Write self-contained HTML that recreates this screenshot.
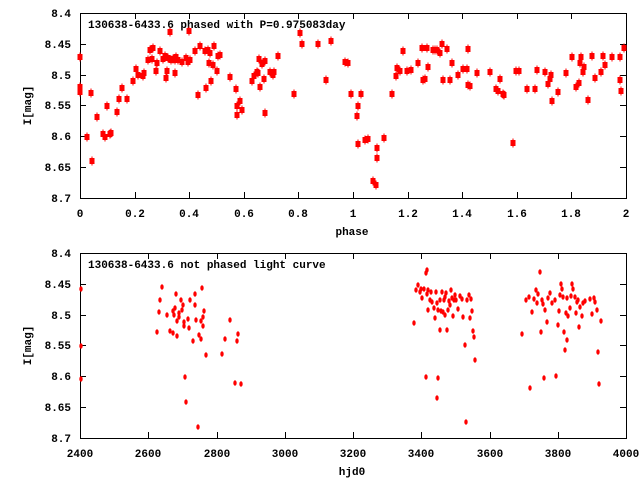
<!DOCTYPE html>
<html><head><meta charset="utf-8"><style>
html,body{margin:0;padding:0;background:#fff;}
svg{display:block;font-family:"Liberation Mono","DejaVu Sans Mono",monospace;font-weight:bold;font-size:11px;}
</style></head><body>
<svg id="s" width="640" height="480" xmlns="http://www.w3.org/2000/svg"></svg>
<script>
const s=document.getElementById('s');let h='';
function frame(L,T,R,B,xt,yt,title,xl){
 h+=`<rect x="${L}.5" y="${T}.5" width="${R-L}" height="${B-T}" fill="none" stroke="#000"/>`;
 xt.forEach(([v,x])=>{h+=`<line x1="${x}.5" y1="${T}" x2="${x}.5" y2="${T+6}" stroke="#000"/><line x1="${x}.5" y1="${B}" x2="${x}.5" y2="${B-6}" stroke="#000"/><text x="${x}" y="${B+19}" text-anchor="middle">${v}</text>`;});
 yt.forEach(([v,y])=>{h+=`<line x1="${L}" y1="${y}.5" x2="${L+6}" y2="${y}.5" stroke="#000"/><line x1="${R}" y1="${y}.5" x2="${R-6}" y2="${y}.5" stroke="#000"/><text x="71" y="${y+4}" text-anchor="end">${v}</text>`;});
 h+=`<text x="88" y="${T+15}">${title}</text>`;
 h+=`<text x="352" y="${B+37}" text-anchor="middle">${xl}</text>`;
 h+=`<text transform="translate(31,${(T+B)/2}) rotate(-90)" text-anchor="middle">I[mag]</text>`;
}
const ylab=['8.4','8.45','8.5','8.55','8.6','8.65','8.7'];
let xt1=[],yt1=[],xt2=[],yt2=[];
for(let i=0;i<=10;i++)xt1.push([i%5==0?(i/5).toString():(i/5).toFixed(1),Math.round(80+i*54.6)]);
for(let i=0;i<7;i++){yt1.push([ylab[i],Math.round(13+i*30.83)]);yt2.push([ylab[i],Math.round(253+i*30.83)]);}
for(let i=0;i<=8;i++)xt2.push([2400+i*200,Math.round(80+i*68.25)]);
frame(80,13,626,198,xt1,yt1,'130638-6433.6 phased with P=0.975083day','phase');
frame(80,253,626,438,xt2,yt2,'130638-6433.6 not phased light curve','hjd0');
const p1=[[80,57],[80,87],[80,92],[87,137],[92,161],[91,93],[97,117],[103,134],[105,137],[107,106],[110,134],[111,133],[117,112],[119,99],[122,88],[127,99],[133,81],[136,69],[138,75],[143,76],[144,73],[148,60],[150,50],[152,59],[153,48],[156,71],[157,63],[160,51],[163,59],[165,56],[166,78],[167,71],[168,58],[170,32],[171,60],[173,59],[175,60],[175,73],[176,57],[178,60],[182,62],[186,58],[188,62],[189,31],[190,60],[195,51],[198,95],[200,46],[205,51],[206,88],[208,50],[209,63],[210,53],[211,81],[213,65],[214,46],[217,71],[218,56],[220,55],[230,77],[236,89],[237,106],[237,115],[240,101],[242,110],[252,81],[254,76],[257,72],[258,73],[259,59],[260,87],[262,64],[264,79],[265,61],[265,113],[270,72],[273,75],[274,72],[278,56],[294,94],[300,33],[302,44],[318,44],[326,80],[331,41],[345,62],[348,63],[351,94],[357,116],[358,144],[358,106],[361,94],[365,140],[368,139],[373,181],[376,185],[377,148],[377,158],[384,138],[392,94],[396,76],[397,68],[400,71],[403,51],[407,71],[411,70],[418,63],[422,48],[423,80],[425,79],[427,48],[428,67],[433,50],[435,50],[437,50],[440,53],[442,44],[443,80],[447,49],[450,80],[452,63],[458,75],[463,69],[467,69],[468,49],[468,85],[470,86],[477,73],[490,72],[496,89],[498,91],[500,79],[503,94],[504,95],[513,143],[516,71],[519,71],[527,89],[535,89],[537,70],[545,72],[548,84],[551,75],[552,101],[550,79],[558,92],[566,73],[572,57],[576,87],[579,83],[580,63],[581,57],[583,72],[584,67],[588,100],[592,56],[595,78],[601,72],[603,56],[605,65],[612,57],[620,57],[620,80],[621,91],[624,48]];
p1.forEach(([x,y])=>{h+=`<rect x="${x-2.5}" y="${y-3}" width="5" height="6" fill="#f00"/><line x1="${x}" y1="${y-4.5}" x2="${x}" y2="${y+4.5}" stroke="#f00"/>`;});
const p2=[[81,289],[81,346],[81,379],[157,332],[159,312],[160,300],[162,287],[167,315],[170,331],[173,333],[173,311],[174,315],[175,308],[176,294],[177,321],[177,336],[179,317],[179,313],[181,300],[182,310],[183,305],[184,322],[184,326],[185,377],[186,402],[188,319],[189,328],[190,300],[193,341],[195,294],[195,305],[196,320],[198,427],[199,335],[201,339],[201,321],[202,288],[203,317],[203,326],[204,311],[206,355],[222,354],[225,339],[230,320],[235,383],[237,341],[238,334],[241,384],
[414,323],[416,290],[418,285],[420,292],[421,289],[422,298],[424,289],[426,273],[427,270],[427,294],[428,290],[428,310],[430,300],[431,292],[432,302],[434,308],[435,318],[436,292],[437,303],[438,310],[440,300],[440,330],[441,311],[442,292],[443,312],[444,300],[445,297],[446,293],[447,330],[448,310],[449,301],[450,305],[451,290],[452,298],[453,316],[454,300],[455,295],[456,300],[458,309],[460,296],[462,299],[463,317],[465,345],[467,300],[469,295],[470,318],[471,299],[472,311],[474,337],[475,360],[466,422],[426,377],[438,378],[437,398],[445,315],[473,331],
[522,334],[526,300],[529,297],[530,388],[532,312],[534,299],[536,290],[537,303],[538,294],[540,272],[541,332],[542,300],[543,304],[544,378],[545,310],[547,322],[548,298],[550,293],[552,303],[555,300],[556,376],[558,325],[559,311],[560,295],[561,284],[562,289],[563,297],[564,332],[565,350],[566,313],[567,340],[567,298],[568,316],[570,308],[571,296],[572,284],[573,289],[575,297],[576,313],[577,302],[578,300],[579,327],[580,307],[582,316],[583,303],[585,301],[590,299],[592,314],[594,298],[595,302],[597,310],[598,352],[599,384],[601,321]];
p2.forEach(([x,y])=>{h+=`<ellipse cx="${x}" cy="${y}" rx="1.7" ry="2.7" fill="#f00"/>`;});
s.innerHTML=h;
</script>
</body></html>
